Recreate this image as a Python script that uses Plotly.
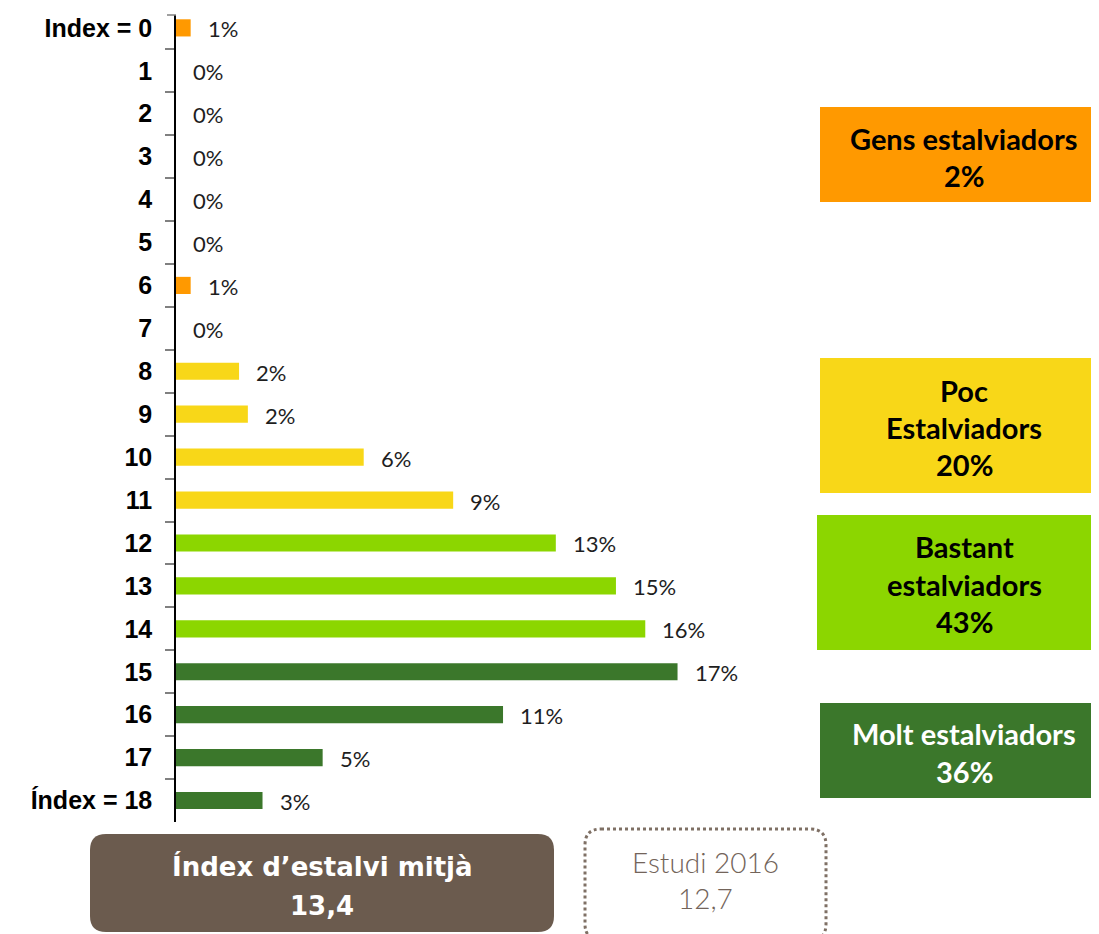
import plotly.graph_objects as go

# ---------------- data ----------------
categories = ["Index = 0", "1", "2", "3", "4", "5", "6", "7", "8", "9", "10",
              "11", "12", "13", "14", "15", "16", "17", "Índex = 18"]
values = [0.5, 0, 0, 0, 0, 0, 0.5, 0, 2.15, 2.45, 6.4, 9.45, 12.95, 15.0, 16.0,
          17.1, 11.15, 5.0, 2.95]
labels = ["1%", "0%", "0%", "0%", "0%", "0%", "1%", "0%", "2%", "2%", "6%", "9%",
          "13%", "15%", "16%", "17%", "11%", "5%", "3%"]
groups = ["gens"] * 8 + ["poc"] * 4 + ["bastant"] * 3 + ["molt"] * 4
group_colors = {"gens": "#FF9900", "poc": "#F8D718", "bastant": "#8CD600", "molt": "#3B772B"}

box_titles = [["Gens estalviadors", "2%"],
              ["Poc", "Estalviadors", "20%"],
              ["Bastant", "estalviadors", "43%"],
              ["Molt estalviadors", "36%"]]
box_keys = ["gens", "poc", "bastant", "molt"]
mean_label = ["Índex d’estalvi mitjà", "13,4"]
prev_label = ["Estudi 2016", "12,7"]

# ---------------- layout geometry (page pixels; page body has an 8px margin) ----------------
OFF = 8
W, H = 1099 - OFF, 934 - OFF
L, R_EDGE, T, B_EDGE = 176, 800, 15, 822
PW, PH = R_EDGE - L, B_EDGE - T


def xp(px):
    return (px - L) / PW


def yp(py):
    return (B_EDGE - py) / PH


fig = go.Figure()
fig.add_trace(go.Bar(
    x=values, y=categories, orientation="h",
    marker=dict(color=[group_colors[g] for g in groups], line=dict(width=0)),
    width=0.4, hoverinfo="skip",
))

annotations = []
for c, v, t in zip(categories, values, labels):
    annotations.append(dict(x=v, y=c, xref="x", yref="y", text=t, showarrow=False,
                            xanchor="left", yanchor="middle", xshift=15, yshift=-1,
                            font=dict(family="Lato", size=22, color="#1E1E1E", weight=400)))

shapes = []
# right-hand group boxes
box_px = [(820, 1099, 107, 202), (820, 1099, 358, 493), (817, 1099, 515, 650), (820, 1099, 703, 798)]
line_y = [[138, 175], [390, 427, 464], [546, 584, 621], [733, 771]]
for key, (x0, x1, y0, y1), lines, ys in zip(box_keys, box_px, box_titles, line_y):
    shapes.append(dict(type="rect", xref="paper", yref="paper", x0=xp(x0), x1=xp(x1),
                       y0=yp(y1), y1=yp(y0), fillcolor=group_colors[key], line=dict(width=0),
                       layer="below"))
    col = "#FFFFFF" if key == "molt" else "#000000"
    for txt, yy in zip(lines, ys):
        annotations.append(dict(x=xp(964), y=yp(yy), xref="paper", yref="paper", text=txt,
                                showarrow=False, xanchor="center", yanchor="middle",
                                font=dict(family="Lato", size=29, color=col, weight="bold")))


def rounded_path(x0, x1, y0, y1, r):
    X = lambda v: f"{xp(v):.5f}"
    Y = lambda v: f"{yp(v):.5f}"
    return (f"M {X(x0 + r)},{Y(y0)} L {X(x1 - r)},{Y(y0)} Q {X(x1)},{Y(y0)} {X(x1)},{Y(y0 + r)} "
            f"L {X(x1)},{Y(y1 - r)} Q {X(x1)},{Y(y1)} {X(x1 - r)},{Y(y1)} "
            f"L {X(x0 + r)},{Y(y1)} Q {X(x0)},{Y(y1)} {X(x0)},{Y(y1 - r)} "
            f"L {X(x0)},{Y(y0 + r)} Q {X(x0)},{Y(y0)} {X(x0 + r)},{Y(y0)} Z")


shapes.append(dict(type="path", xref="paper", yref="paper",
                   path=rounded_path(90, 554, 834, 932, 16),
                   fillcolor="#6B5B4E", line=dict(width=0)))
shapes.append(dict(type="path", xref="paper", yref="paper",
                   path=rounded_path(585, 826, 829, 940, 16),
                   fillcolor="rgba(0,0,0,0)", line=dict(color="#7F7065", width=3, dash="dot")))

for txt, yy in zip(mean_label, [866, 906]):
    annotations.append(dict(x=xp(322), y=yp(yy), xref="paper", yref="paper", text=txt,
                            showarrow=False, xanchor="center", yanchor="middle",
                            font=dict(family="DejaVu Sans", size=26, color="#FFFFFF", weight="bold")))
for txt, yy in zip(prev_label, [862, 898]):
    annotations.append(dict(x=xp(705), y=yp(yy), xref="paper", yref="paper", text=txt,
                            showarrow=False, xanchor="center", yanchor="middle",
                            font=dict(family="Lato", size=28, color="#73645A", weight=300)))

# top end tick of the axis
shapes.append(dict(type="line", xref="paper", yref="paper", x0=xp(167), x1=xp(176), y0=1, y1=1,
                   line=dict(color="#808080", width=1.5)))

fig.update_layout(
    width=W, height=H,
    margin=dict(l=L - OFF, r=1099 - R_EDGE, t=T - OFF, b=934 - B_EDGE, pad=0),
    plot_bgcolor="white", paper_bgcolor="white",
    showlegend=False, bargap=0.6,
    xaxis=dict(range=[0, PW / 29.33], visible=False, fixedrange=True),
    yaxis=dict(type="category", categoryorder="array", categoryarray=categories,
               range=[18.5, -0.3], showline=True, linecolor="#000000", linewidth=1.5,
               ticks="outside", tickson="boundaries", ticklen=9, tickcolor="#808080",
               tickwidth=1.5, showgrid=False, zeroline=False, ticklabelstandoff=17,
               tickfont=dict(family="Liberation Sans", size=25, color="#000000", weight="bold")),
    annotations=annotations, shapes=shapes,
)

fig.write_html("out.html")
